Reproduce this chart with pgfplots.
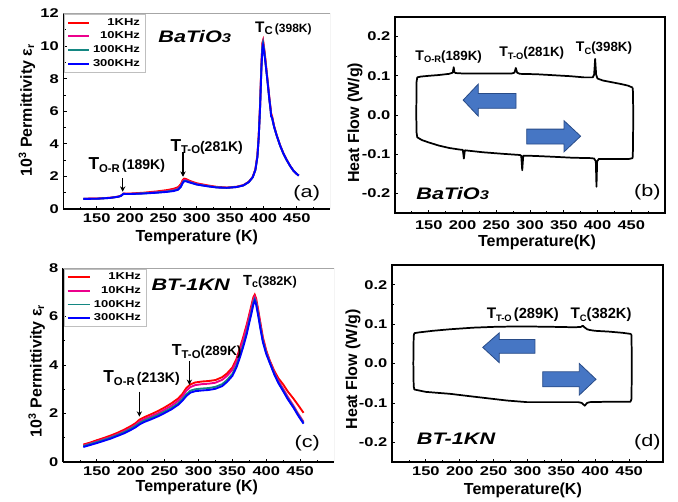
\documentclass[border=0pt]{standalone}
\usepackage{pgfplots}
\pgfplotsset{compat=1.18}
\usepackage{fontspec}
\setmainfont{Liberation Sans}
\newfontfamily\wfont[FakeStretch=1.3]{Liberation Sans}
\usetikzlibrary{arrows.meta}
\definecolor{tealc}{RGB}{20,135,130}
\definecolor{arrfill}{RGB}{70,118,196}
\definecolor{arredge}{RGB}{40,75,135}
\newcommand\Tl[6]{{\fontsize{#1}{#1}\selectfont T}\raisebox{-2pt}{\fontsize{#2}{#2}\selectfont #3}#4{\fontsize{#5}{#5}\selectfont #6}}
\pgfplotsset{
 common/.style={scale only axis, xmin=100, xmax=500,
  xtick={150,200,...,450}, minor xtick={125,175,...,475},
  major tick length=2.5pt, minor tick length=1.8pt, tick pos=left,
  /pgf/number format/assume math mode=true,
  tick label style={font=\fontsize{9.5}{10}\wfont\bfseries},
  label style={font=\fontsize{12}{13}\selectfont\bfseries},
  tick style={black, line width=0.6pt},
  axis line style={line width=0.8pt},
 },
}
\pgfplotstableread{
T v
130 0.62
150 0.63
170 0.68
182 0.75
186 0.8
188 0.86
190 0.93
195 0.92
200 0.92
220 0.95
240 1.0
255 1.05
265 1.1
272 1.18
276 1.35
279 1.6
281 1.7
284 1.7
290 1.62
300 1.5
315 1.4
330 1.32
345 1.3
360 1.35
370 1.45
378 1.65
384 1.95
388 2.4
391 3.2
393 4.4
395 6.2
397 8.6
398.5 9.8
399.5 10.05
401 9.7
403 9.0
406 7.9
409 6.7
411 6.0
411.5 5.7
413 5.6
416 5.05
420 4.5
425 3.9
430 3.4
435 3.0
440 2.65
445 2.35
450 2.15
453 2.05
}\aBlue
\pgfplotstableread{
T v
130 0.63
150 0.64
170 0.69
182 0.76
186 0.81
188 0.87
190 0.95
195 0.94
200 0.95
220 1.0
240 1.08
255 1.16
265 1.24
272 1.34
276 1.52
279 1.78
281 1.87
284 1.84
290 1.72
300 1.58
315 1.46
330 1.36
345 1.32
360 1.37
370 1.47
378 1.67
384 1.97
388 2.45
391 3.3
393 4.5
395 6.4
397 8.9
398.5 10.2
399.5 10.35
401 9.9
403 9.2
406 8.0
409 6.8
411 6.1
411.5 5.9
413 5.7
416 5.1
420 4.52
425 3.92
430 3.42
435 3.02
440 2.66
445 2.36
450 2.16
453 2.06
}\aRed
\pgfplotstableread{
T v
130 0.63
150 0.64
170 0.69
182 0.76
186 0.81
188 0.87
190 0.94
195 0.93
200 0.93
220 0.97
240 1.04
255 1.1
265 1.17
272 1.26
276 1.44
279 1.69
281 1.79
284 1.78
290 1.67
300 1.54
315 1.43
330 1.34
345 1.3
360 1.35
370 1.45
378 1.66
384 1.96
388 2.42
391 3.25
393 4.45
395 6.3
397 8.8
398.5 10.15
399.5 10.3
401 9.85
403 9.1
406 7.95
409 6.75
411 6.05
411.5 5.8
413 5.65
416 5.07
420 4.51
425 3.91
430 3.41
435 3.01
440 2.65
445 2.35
450 2.15
453 2.05
}\aMag
\pgfplotstableread{
T v
130 0.62
150 0.63
170 0.68
182 0.75
186 0.8
188 0.86
190 0.93
195 0.92
200 0.92
220 0.96
240 1.01
255 1.07
265 1.13
272 1.21
276 1.38
279 1.63
281 1.73
284 1.73
290 1.64
300 1.51
315 1.41
330 1.33
345 1.3
360 1.35
370 1.45
378 1.65
384 1.95
388 2.4
391 3.2
393 4.4
395 6.25
397 8.7
398.5 10.0
399.5 10.2
401 9.8
403 9.05
406 7.9
409 6.7
411 6.0
411.5 5.75
413 5.6
416 5.05
420 4.5
425 3.9
430 3.4
435 3.0
440 2.65
445 2.35
450 2.15
453 2.05
}\aTeal
\pgfplotstableread{
T v
130 0.72
140 0.8
150 0.9
160 0.99
170 1.09
180 1.2
190 1.33
200 1.48
207 1.6
213 1.75
220 1.85
230 1.97
240 2.1
250 2.25
260 2.42
270 2.62
276 2.8
282 3.05
288 3.2
295 3.28
305 3.32
315 3.34
325 3.38
335 3.5
342 3.65
350 3.9
356 4.25
361 4.7
366 5.15
371 5.65
375 6.1
378 6.45
381 6.8
383 6.9
385 6.75
388 6.3
391 5.8
395 5.15
400 4.6
405 4.2
412 3.75
418 3.45
425 3.2
432 2.9
440 2.62
447 2.35
455 2.03
}\cRed
\pgfplotstableread{
T v
130 0.68
140 0.76
150 0.85
160 0.94
170 1.03
180 1.14
190 1.27
200 1.41
207 1.53
213 1.67
220 1.77
230 1.89
240 2.01
250 2.16
260 2.32
270 2.52
276 2.7
282 2.94
288 3.09
295 3.17
305 3.21
315 3.23
325 3.27
335 3.39
342 3.55
350 3.8
356 4.15
361 4.6
366 5.05
371 5.55
375 6.0
378 6.35
381 6.7
383 6.82
385 6.68
388 6.22
391 5.72
395 5.08
400 4.55
405 4.17
412 3.68
418 3.35
425 3.02
432 2.68
440 2.33
447 2.0
455 1.66
}\cMag
\pgfplotstableread{
T v
130 0.65
140 0.74
150 0.82
160 0.91
170 1.0
180 1.11
190 1.23
200 1.37
207 1.49
213 1.61
220 1.71
230 1.82
240 1.94
250 2.08
260 2.23
270 2.42
276 2.59
282 2.79
288 2.94
295 3.0
305 3.03
315 3.05
325 3.1
335 3.21
342 3.38
350 3.63
356 3.98
361 4.38
366 4.83
371 5.33
375 5.83
378 6.18
381 6.58
383 6.72
385 6.58
388 6.12
391 5.62
395 5.0
400 4.5
405 4.12
412 3.63
418 3.28
425 2.95
432 2.61
440 2.28
447 1.95
455 1.61
}\cTeal
\pgfplotstableread{
T v
130 0.62
140 0.7
150 0.78
160 0.87
170 0.96
180 1.07
190 1.18
200 1.32
207 1.43
213 1.55
220 1.65
230 1.76
240 1.88
250 2.02
260 2.17
270 2.36
276 2.52
282 2.72
288 2.86
295 2.92
305 2.95
315 2.97
325 3.02
335 3.13
342 3.3
350 3.55
356 3.9
361 4.3
366 4.75
371 5.25
375 5.75
378 6.1
381 6.5
383 6.65
385 6.5
388 6.05
391 5.55
395 4.95
400 4.45
405 4.1
412 3.6
418 3.25
425 2.92
432 2.58
440 2.25
447 1.92
455 1.58
}\cBlue
\begin{document}
\begin{tikzpicture}
\useasboundingbox (0,0) rectangle (508.5pt,-375.75pt);
% ---------------- (a)
\begin{axis}[common, at={(47.55pt,-156.75pt)}, anchor=south west, width=200pt, height=146.6pt,
 ymin=0, ymax=12, ytick={0,2,...,12}, minor ytick={1,3,...,11},
 axis x line*=bottom, axis y line*=left, tick align=inside,
 xlabel={Temperature (K)}, ylabel={10\textsuperscript{3} Permittivity ε\textsubscript{r}},
 xlabel style={at={(axis description cs:0.5,-0.143)},anchor=center},
 ylabel style={at={(axis description cs:-0.137,0.505)},anchor=center},
 legend style={at={(0.003,0.997)},anchor=north west, draw=gray!50, line width=0.4pt,
   font=\fontsize{7.5}{8}\wfont\bfseries, row sep=-0.5pt, inner xsep=2pt, inner ysep=1pt, fill=none},
 legend cell align=right,
 legend image code/.code={\draw[#1] (0pt,0pt) -- (16pt,0pt);},
]
\addplot[red, line width=1.4pt] table[x=T,y=v] {\aRed};
\addplot[magenta, line width=1.4pt] table[x=T,y=v] {\aMag};
\addplot[tealc, line width=1.4pt] table[x=T,y=v] {\aTeal};
\addplot[blue, line width=1.4pt] table[x=T,y=v] {\aBlue};
\legend{1KHz,10KHz,100KHz,300KHz}
\draw[gray!70, line width=0.5pt] (rel axis cs:0,1) -- (rel axis cs:1,1) -- (rel axis cs:1,0);
\node[font=\fontsize{12.5}{13}\wfont\bfseries\itshape] at (axis cs:297,10.6) {BaTiO{\fontsize{9.5}{10}\selectfont 3}};
\node[font=\bfseries] at (axis cs:430,11.1) {\Tl{11.5}{8.5}{C}{\,}{9}{(398K)}};
\node[font=\bfseries] at (axis cs:315,3.82) {\Tl{13}{8.5}{T-O}{}{10.5}{(281K)}};
\node[font=\bfseries] at (axis cs:195,2.7) {\Tl{13}{8.5}{O-R}{\,}{10.5}{(189K)}};
\draw[-{Stealth[length=4pt,width=4pt]}, line width=0.8pt] (axis cs:189,1.88) -- (axis cs:189,1.06);
\draw[-{Stealth[length=4pt,width=4pt]}, line width=0.8pt] (axis cs:279.4,3.52) -- (axis cs:279.4,1.98);
\node[font=\fontsize{12.5}{13}\wfont] at (axis cs:465,1.0) {(a)};
\end{axis}
% ---------------- (b)
\begin{axis}[common, at={(296.25pt,-159.75pt)}, anchor=south west, width=202.5pt, height=147pt,
 ymin=-0.25, ymax=0.25, ytick={-0.2,-0.1,0,0.1,0.2}, minor ytick={-0.15,-0.05,0.05,0.15},
 tick align=inside,
 yticklabel style={/pgf/number format/.cd,fixed,fixed zerofill,precision=1},
 xticklabel style={yshift=-2.5pt},
 xlabel={Temperature(K)}, ylabel={Heat Flow (W/g)},
 xlabel style={at={(axis description cs:0.526,-0.148)},anchor=center},
 ylabel style={at={(axis description cs:-0.148,0.46)},anchor=center},
]
\addplot[black, line width=1.3pt, line join=round] coordinates {
(452,0.070) (445,0.075) (435,0.079) (420,0.084) (408,0.088) (400,0.093) (398,0.103) (396.5,0.143) (395,0.103) (393,0.096) (380,0.096) (360,0.099) (340,0.101) (310,0.104) (285,0.105) (281,0.108) (279,0.12) (277,0.108) (273,0.106) (240,0.106) (200,0.106) (190,0.107) (188,0.109) (187,0.122) (185.5,0.108) (180,0.105) (165,0.102) (150,0.1) (138,0.098) (133,0.096)
(132,0.085) (131.5,0.0) (132,-0.045) (133,-0.057)
(140,-0.064) (150,-0.07) (165,-0.078) (180,-0.084) (195,-0.088) (200.5,-0.089) (202,-0.111) (203.5,-0.09) (230,-0.095) (260,-0.099) (285,-0.102) (287,-0.104) (288.5,-0.141) (290,-0.104) (300,-0.104) (315,-0.105) (340,-0.107) (363,-0.109) (390,-0.11) (395,-0.111) (397.5,-0.118) (398.5,-0.183) (399.5,-0.118) (402,-0.112) (420,-0.112) (447,-0.112) (452,-0.11)
(452.5,-0.09) (453,0.0) (452.5,0.06) (452,0.070)
};
\filldraw[fill=arrfill, draw=arredge, line width=0.6pt] (axis cs:201,0.038) -- (axis cs:223.4,0.079) -- (axis cs:223.4,0.055) -- (axis cs:279.3,0.055) -- (axis cs:279.3,0.017) -- (axis cs:223.4,0.017) -- (axis cs:223.4,-0.003) -- cycle;
\filldraw[fill=arrfill, draw=arredge, line width=0.6pt] (axis cs:375,-0.054) -- (axis cs:350.4,-0.0145) -- (axis cs:350.4,-0.036) -- (axis cs:295.1,-0.036) -- (axis cs:295.1,-0.074) -- (axis cs:350.4,-0.074) -- (axis cs:350.4,-0.094) -- cycle;
\node[font=\bfseries] at (axis cs:179.5,0.149) {\Tl{10.5}{7}{O-R}{}{10}{(189K)}};
\node[font=\bfseries] at (axis cs:302.5,0.157) {\Tl{10.5}{7}{T-O}{}{10}{(281K)}};
\node[font=\bfseries] at (axis cs:409.6,0.17) {\Tl{10.5}{7}{C}{}{10}{(398K)}};
\node[font=\fontsize{12.5}{13}\wfont\bfseries\itshape] at (axis cs:185.5,-0.2) {BaTiO{\fontsize{9.5}{10}\selectfont 3}};
\node[font=\fontsize{12.5}{13}\wfont] at (axis cs:474,-0.196) {(b)};
\end{axis}
% ---------------- (c)
\begin{axis}[common, at={(47.25pt,-346.5pt)}, anchor=south west, width=203.25pt, height=145.5pt,
 ymin=0, ymax=8, ytick={0,2,...,8}, minor ytick={1,3,5,7},
 axis x line*=bottom, axis y line*=left, tick align=inside,
 xlabel={Temperature (K)}, ylabel={10\textsuperscript{3} Permittivity ε\textsubscript{r}},
 xlabel style={at={(axis description cs:0.494,-0.129)},anchor=center},
 ylabel style={at={(axis description cs:-0.097,0.47)},anchor=center},
 legend style={at={(0.003,0.997)},anchor=north west, draw=gray!50, line width=0.4pt,
   font=\fontsize{7.5}{8}\wfont\bfseries, row sep=-0.5pt, inner xsep=2pt, inner ysep=1pt, fill=none},
 legend cell align=right,
 legend image code/.code={\draw[#1] (0pt,0pt) -- (17pt,0pt);},
]
\addplot[red, line width=1.4pt] table[x=T,y=v] {\cRed};
\addplot[magenta, line width=1.4pt] table[x=T,y=v] {\cMag};
\addplot[tealc, line width=1.4pt] table[x=T,y=v] {\cTeal};
\addplot[blue, line width=1.4pt] table[x=T,y=v] {\cBlue};
\legend{1KHz,10KHz,100KHz,300KHz}
\draw[gray!70, line width=0.5pt] (rel axis cs:0,1) -- (rel axis cs:1,1) -- (rel axis cs:1,0);
\node[font=\fontsize{12.5}{13}\wfont\bfseries\itshape] at (axis cs:288.5,7.3) {BT-1KN};
\node[font=\bfseries] at (axis cs:405.5,7.44) {\Tl{11}{8}{c}{}{9.5}{(382K)}};
\node[font=\bfseries] at (axis cs:312,4.55) {\Tl{12}{8.5}{T-O}{}{10}{(289K)}};
\node[font=\bfseries] at (axis cs:216,3.45) {\Tl{13}{8.5}{O-R}{\,}{10.5}{(213K)}};
\draw[-{Stealth[length=4pt,width=4pt]}, line width=0.8pt] (axis cs:286.5,4.17) -- (axis cs:286.5,3.18);
\draw[-{Stealth[length=4pt,width=4pt]}, line width=0.8pt] (axis cs:212.7,2.9) -- (axis cs:212.7,1.87);
\node[font=\fontsize{12.5}{13}\wfont] at (axis cs:460.6,0.77) {(c)};
\end{axis}
% ---------------- (d)
\begin{axis}[common, at={(294pt,-346.5pt)}, anchor=south west, width=203.25pt, height=147.75pt,
 ymin=-0.25, ymax=0.25, ytick={-0.2,-0.1,0,0.1,0.2}, minor ytick={-0.15,-0.05,0.05,0.15},
 tick align=inside,
 yticklabel style={/pgf/number format/.cd,fixed,fixed zerofill,precision=1},
 xlabel={Temperature(K)}, ylabel={Heat Flow (W/g)},
 xlabel style={at={(axis description cs:0.483,-0.142)},anchor=center},
 ylabel style={at={(axis description cs:-0.144,0.47)},anchor=center},
]
\addplot[black, line width=1.3pt, line join=round] coordinates {
(453,0.075) (440,0.078) (420,0.081) (400,0.083) (392,0.085) (388,0.087) (384,0.092) (381.5,0.096) (379,0.093) (370,0.092) (340,0.093) (300,0.094) (279,0.094) (250,0.093) (220,0.091) (186,0.087) (160,0.083) (140,0.079) (133,0.077)
(132,0.07) (131.5,0.0) (132,-0.058) (133,-0.066)
(150,-0.072) (186,-0.077) (215,-0.083) (245,-0.089) (270,-0.094) (299,-0.098) (340,-0.098) (375,-0.098) (380,-0.1) (384.5,-0.107) (388,-0.1) (392,-0.098) (420,-0.097) (452,-0.097)
(453.5,-0.09) (454,0.0) (453.5,0.07) (453,0.075)
};
\filldraw[fill=arrfill, draw=arredge, line width=0.6pt] (axis cs:233.9,0.041) -- (axis cs:258.4,0.078) -- (axis cs:258.4,0.061) -- (axis cs:311,0.061) -- (axis cs:311,0.026) -- (axis cs:258.4,0.026) -- (axis cs:258.4,0.002) -- cycle;
\filldraw[fill=arrfill, draw=arredge, line width=0.6pt] (axis cs:401.1,-0.040) -- (axis cs:376.5,0.0) -- (axis cs:376.5,-0.021) -- (axis cs:322.4,-0.021) -- (axis cs:322.4,-0.059) -- (axis cs:376.5,-0.059) -- (axis cs:376.5,-0.080) -- cycle;
\node[font=\bfseries] at (axis cs:293,0.123) {\Tl{11.5}{7}{T-O}{\,}{11}{(289K)}};
\node[font=\bfseries] at (axis cs:408.5,0.123) {\Tl{11.5}{7}{C}{}{11}{(382K)}};
\node[font=\fontsize{12.5}{13}\wfont\bfseries\itshape] at (axis cs:194.5,-0.19) {BT-1KN};
\node[font=\fontsize{12.5}{13}\wfont] at (axis cs:476.8,-0.2) {(d)};
\end{axis}
\end{tikzpicture}
\end{document}
